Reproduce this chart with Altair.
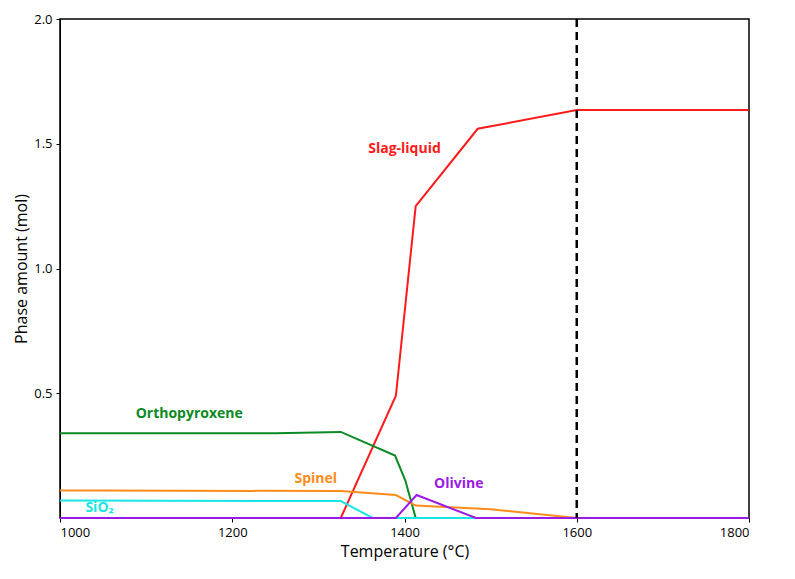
import altair as alt
import pandas as pd

slag_t = [1000, 1326, 1390, 1413, 1485, 1600, 1800]
slag_v = [0, 0, 0.49, 1.25, 1.56, 1.635, 1.635]
opx_t = [1000, 1250, 1326, 1389, 1401, 1413, 1800]
opx_v = [0.34, 0.34, 0.345, 0.25, 0.15, 0, 0]
spinel_t = [1000, 1050, 1326, 1390, 1413, 1500, 1600, 1800]
spinel_v = [0.11, 0.11, 0.108, 0.092, 0.05, 0.035, 0, 0]
sio2_t = [1000, 1326, 1363, 1800]
sio2_v = [0.07, 0.068, 0, 0]
olivine_t = [1000, 1390, 1414, 1483, 1800]
olivine_v = [0, 0, 0.092, 0, 0]

series = [
    ("Slag-liquid", slag_t, slag_v, "#ff1a1a"),
    ("Orthopyroxene", opx_t, opx_v, "#0a8a22"),
    ("Spinel", spinel_t, spinel_v, "#ff8c1a"),
    ("SiO2", sio2_t, sio2_v, "#1ae5e5"),
    ("Olivine", olivine_t, olivine_v, "#9b1ae5"),
]

rows = []
for name, ts, vs, _ in series:
    for i, (t, v) in enumerate(zip(ts, vs)):
        rows.append({"phase": name, "T": t, "v": v, "o": i})
df = pd.DataFrame(rows)

labels = pd.DataFrame({
    "text": ["Slag-liquid", "Orthopyroxene", "Spinel", "SiO₂", "Olivine"],
    "T": [1400, 1150, 1297, 1046, 1463],
    "v": [1.48, 0.415, 0.155, 0.04, 0.135],
    "color": [s[3] for s in series],
})

xs = alt.Scale(domain=[1000, 1800], nice=False)
ys = alt.Scale(domain=[0, 2], nice=False)

lines = alt.Chart(df).mark_line(strokeWidth=2).encode(
    x=alt.X("T:Q", scale=xs, title="Temperature (°C)",
            axis=alt.Axis(values=[1000, 1200, 1400, 1600, 1800], format="d",
                          tickSize=4, labelPadding=4, grid=False)),
    y=alt.Y("v:Q", scale=ys, title="Phase amount (mol)",
            axis=alt.Axis(values=[0.5, 1.0, 1.5, 2.0], format=".1f",
                          tickSize=4, labelPadding=4, grid=False)),
    color=alt.Color("phase:N", legend=None,
                    scale=alt.Scale(domain=[s[0] for s in series],
                                    range=[s[3] for s in series])),
    order="o:Q",
)

dash = alt.Chart(pd.DataFrame({"T": [1600]})).mark_rule(
    color="black", strokeWidth=2.5, strokeDash=[8, 5]
).encode(x=alt.X("T:Q", scale=xs))

text = alt.Chart(labels).mark_text(
    fontSize=14, fontWeight="bold", font="Open Sans"
).encode(
    x=alt.X("T:Q", scale=xs), y=alt.Y("v:Q", scale=ys),
    text="text:N", color=alt.Color("color:N", scale=None),
)

chart = (lines + dash + text).properties(
    width=689, height=499
).configure_view(stroke="black", strokeWidth=1.5).configure_axis(
    labelFont="Open Sans", titleFont="Open Sans", labelFontSize=13,
    titleFontSize=16, titleFontWeight="normal", labelColor="black",
    titleColor="black", domainColor="black", tickColor="black",
)

chart.save("out.html", embed_options={"renderer": "svg", "actions": False})
